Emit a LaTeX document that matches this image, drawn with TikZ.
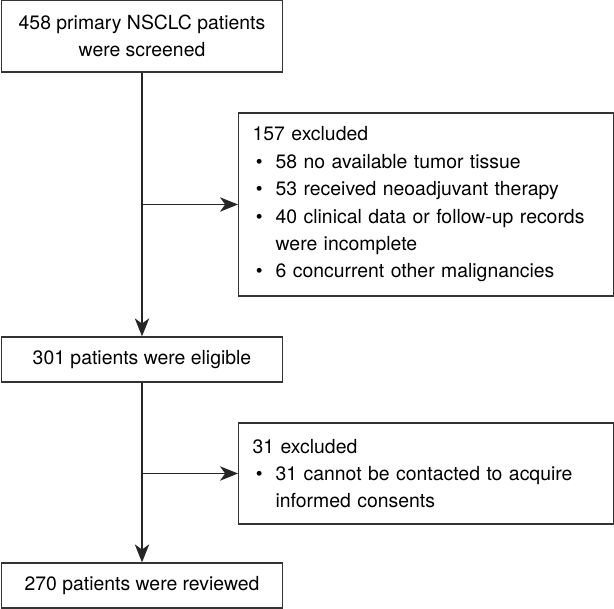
\documentclass[tikz,border=0pt]{standalone}
\usepackage{fontspec}
\setmainfont{TeX Gyre Heros}
\usetikzlibrary{arrows.meta, positioning}

\newcommand{\bitem}{\makebox[0.575cm][l]{\hspace{0.08cm}\textbullet}}

\tikzset{
    flowbox/.style={draw=black!80, line width=0.9pt, minimum width=7.025cm, align=center, inner sep=0pt},
    exclbox/.style={draw=black!80, line width=0.9pt, anchor=west, text width=8.675cm, inner xsep=0.35cm, inner ysep=0pt, align=left},
    flowline/.style={line width=0.9pt, black!85},
    flowarrow/.style={flowline, -{Stealth[length=0.45cm, width=0.36cm, inset=0.13cm]}}
}

\begin{document}
\begin{tikzpicture}[font=\fontsize{13.8}{19.5}\selectfont]
    \useasboundingbox (0,0) rectangle (15.35,-15.225);

    \node[flowbox, minimum height=1.8cm] (screened) at (3.55,-0.9) {458 primary NSCLC patients\\were screened};
    \node[exclbox, minimum height=4.575cm] (excl1) at (5.95,-5.1125) {157 excluded\\
        \bitem 58 no available tumor tissue\\
        \bitem 53 received neoadjuvant therapy\\
        \bitem 40 clinical data or follow-up records\\
        \hspace*{0.575cm}were incomplete\\
        \bitem 6 concurrent other malignancies};
    \node[flowbox, minimum height=1.125cm] (eligible) at (3.55,-8.9875) {301 patients were eligible};
    \node[exclbox, minimum height=2.525cm] (excl2) at (5.95,-11.8375) {31 excluded\\
        \bitem 31 cannot be contacted to acquire\\
        \hspace*{0.575cm}informed consents};
    \node[flowbox, minimum height=1.125cm] (reviewed) at (3.55,-14.6375) {270 patients were reviewed};

    \coordinate (split1) at (screened.south |- excl1.west);
    \coordinate (split2) at (eligible.south |- excl2.west);

    \draw[flowarrow] (screened) -- (eligible);
    \draw[flowarrow] (split1) -- (excl1);
    \draw[flowarrow] (eligible) -- (reviewed);
    \draw[flowarrow] (split2) -- (excl2);
\end{tikzpicture}
\end{document}
